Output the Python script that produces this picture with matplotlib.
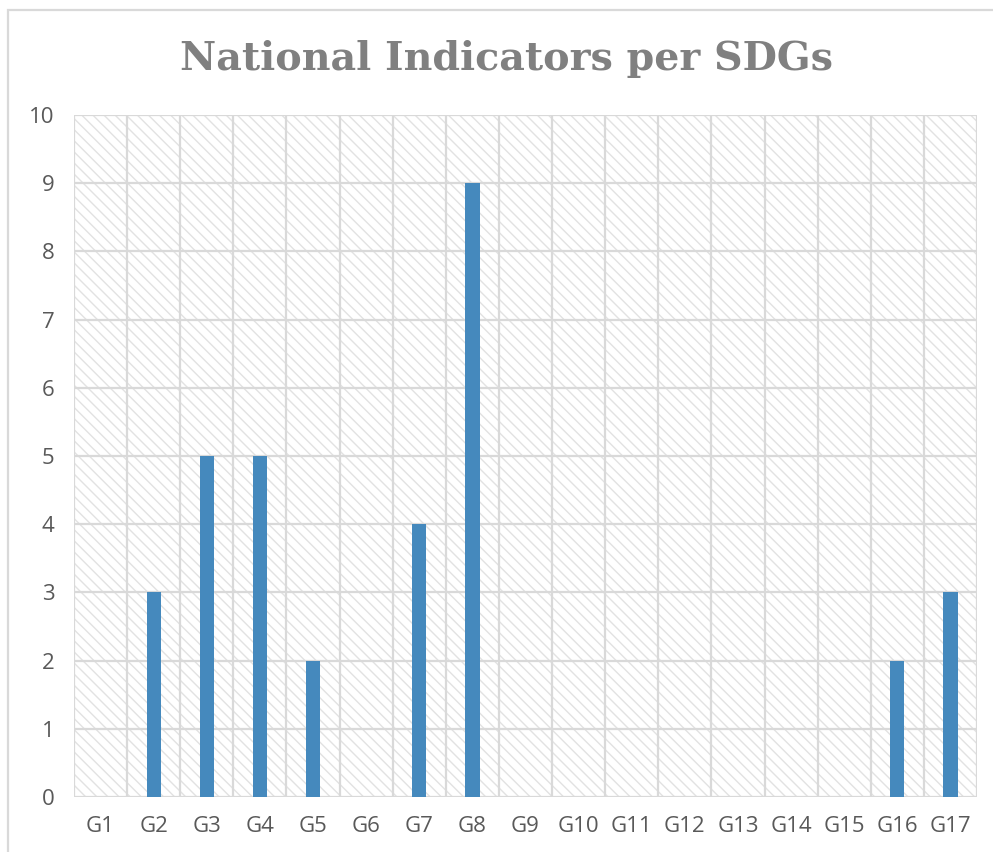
import numpy as np
import matplotlib
matplotlib.use("Agg")
import matplotlib.pyplot as plt
from matplotlib.patches import Rectangle

# ── Data ──────────────────────────────────────────────────────────────────────
goals = [f"G{i}" for i in range(1, 18)]
indicators = [0, 3, 5, 5, 2, 0, 4, 9, 0, 0, 0, 0, 0, 0, 0, 2, 3]
y_ticks = list(range(0, 11))

# ── Style ─────────────────────────────────────────────────────────────────────
BAR = "#4589BD"
GRID = "#D9D9D9"
HATCH = "#E2E2E2"
TEXT = "#595959"
TITLE = "#808080"

plt.rcParams["hatch.color"] = HATCH
plt.rcParams["hatch.linewidth"] = 1.0

fig = plt.figure(figsize=(9.93, 8.52), dpi=100)
ax = fig.add_axes([74 / 993, 1 - 797 / 852, (977 - 74) / 993, (797 - 115) / 852])

x = np.arange(len(goals))
ax.set_xlim(-0.5, len(goals) - 0.5)
ax.set_ylim(0, 10)

# hatched plot-area background
ax.add_patch(Rectangle((0, 0), 1, 1, transform=ax.transAxes, facecolor="white",
                       edgecolor=HATCH, hatch="\\\\\\", linewidth=0, zorder=0))

# grid: category boundaries and integer values
for xb in np.arange(-0.5, len(goals), 1.0):
    ax.axvline(xb, color=GRID, lw=1.6, zorder=1)
for yv in y_ticks:
    ax.axhline(yv, color=GRID, lw=1.6, zorder=1)

ax.bar(x, indicators, width=0.27, color=BAR, zorder=3)

ax.set_xticks(x)
ax.set_xticklabels(goals)
ax.set_yticks(y_ticks)
for lab in ax.get_xticklabels() + ax.get_yticklabels():
    lab.set_fontfamily("Open Sans")
    lab.set_fontsize(16)
    lab.set_color(TEXT)
ax.tick_params(axis="x", length=0, pad=14)
ax.tick_params(axis="y", length=0, pad=14)
for s in ax.spines.values():
    s.set_visible(False)

# chart-area border (left and top edges visible)
fig.patches.append(Rectangle((8 / 993, -0.05), 1.1, 1 - 10 / 852 + 0.05,
                             transform=fig.transFigure, fill=False,
                             edgecolor=GRID, linewidth=1.6))

fig.text(506 / 993, 1 - 59 / 852, "National Indicators per SDGs",
         family="DejaVu Serif", fontweight="bold", fontsize=28.5,
         color=TITLE, ha="center", va="center")

fig.savefig("out.png", dpi=100, facecolor="white")
